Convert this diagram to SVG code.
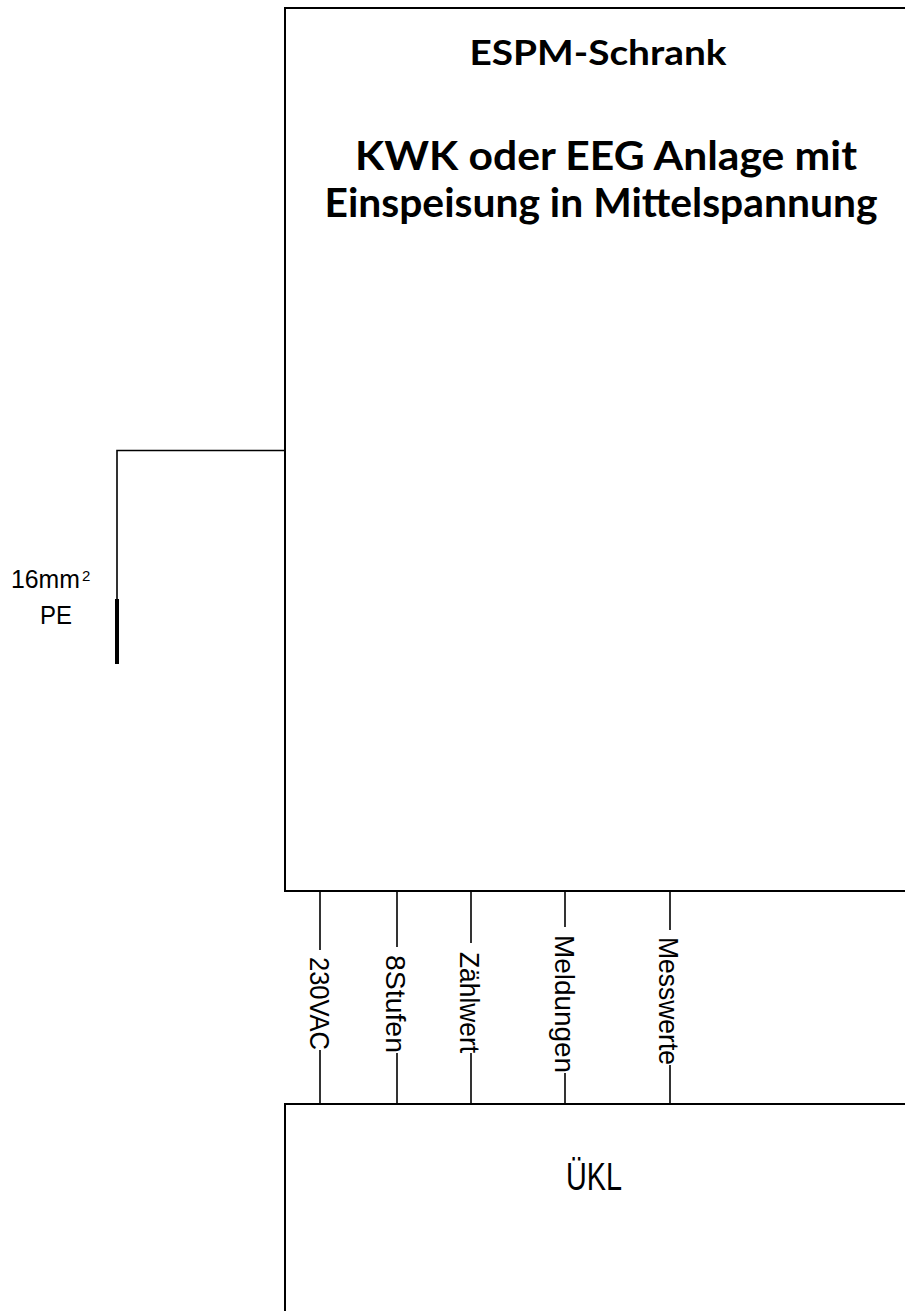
<svg xmlns="http://www.w3.org/2000/svg" width="905" height="1311" viewBox="0 0 905 1311">
<style>
.box{fill:#fff;stroke:#000;stroke-width:2}
.ln{stroke:#000;stroke-width:1.6;fill:none}
.title{font-family:Lato,"Liberation Sans",sans-serif;font-weight:bold;fill:#000}
.lbl{font-family:"Liberation Sans",Arial,sans-serif;fill:#000}
.rot{font-family:"Liberation Sans",Arial,sans-serif;fill:#000;font-size:28px}
</style>
<rect width="905" height="1311" fill="#fff"/>
<g id="espm">
<rect class="box" x="285" y="8" width="650" height="883"/>
<text class="title" x="598" y="65" text-anchor="middle" style="font-size:35px" textLength="257" lengthAdjust="spacingAndGlyphs">ESPM-Schrank</text>
<text class="title" x="606" y="170" text-anchor="middle" style="font-size:40px" textLength="502" lengthAdjust="spacingAndGlyphs">KWK oder EEG Anlage mit</text>
<text class="title" x="601" y="217" text-anchor="middle" style="font-size:40px" textLength="553" lengthAdjust="spacingAndGlyphs">Einspeisung in Mittelspannung</text>
</g>
<g id="ukl">
<rect class="box" x="285" y="1104" width="650" height="220"/>
<text class="lbl" x="594" y="1190" text-anchor="middle" style="font-size:38px" textLength="56" lengthAdjust="spacingAndGlyphs">ÜKL</text>
</g>
<g id="pe">
<text class="lbl" x="11" y="588" style="font-size:25px" textLength="69" lengthAdjust="spacingAndGlyphs">16mm</text>
<text class="lbl" x="82" y="581" style="font-size:15px">2</text>
<text class="lbl" x="40" y="624" style="font-size:25px" textLength="32" lengthAdjust="spacingAndGlyphs">PE</text>
</g>
<g id="connectors">
<polyline class="ln" points="285,450.5 117,450.5 117,600"/>
<line x1="117" y1="599" x2="117" y2="664" stroke="#000" stroke-width="4"/>
<line class="ln" x1="320" y1="891" x2="320" y2="950"/>
<line class="ln" x1="320" y1="1050" x2="320" y2="1104"/>
<line class="ln" x1="397" y1="891" x2="397" y2="947"/>
<line class="ln" x1="397" y1="1053" x2="397" y2="1104"/>
<line class="ln" x1="471" y1="891" x2="471" y2="943"/>
<line class="ln" x1="471" y1="1053" x2="471" y2="1104"/>
<line class="ln" x1="565" y1="891" x2="565" y2="927"/>
<line class="ln" x1="565" y1="1073" x2="565" y2="1104"/>
<line class="ln" x1="670" y1="891" x2="670" y2="930"/>
<line class="ln" x1="670" y1="1065" x2="670" y2="1104"/>
</g>
<g id="labels">
<text class="rot" transform="translate(310,957) rotate(90)" textLength="93" lengthAdjust="spacingAndGlyphs">230VAC</text>
<text class="rot" transform="translate(386,955) rotate(90)" textLength="98" lengthAdjust="spacingAndGlyphs">8Stufen</text>
<text class="rot" transform="translate(460,952) rotate(90)" textLength="101" lengthAdjust="spacingAndGlyphs">Zählwert</text>
<text class="rot" transform="translate(555,935) rotate(90)" textLength="138" lengthAdjust="spacingAndGlyphs">Meldungen</text>
<text class="rot" transform="translate(659,937) rotate(90)" textLength="128" lengthAdjust="spacingAndGlyphs">Messwerte</text>
</g>
</svg>
